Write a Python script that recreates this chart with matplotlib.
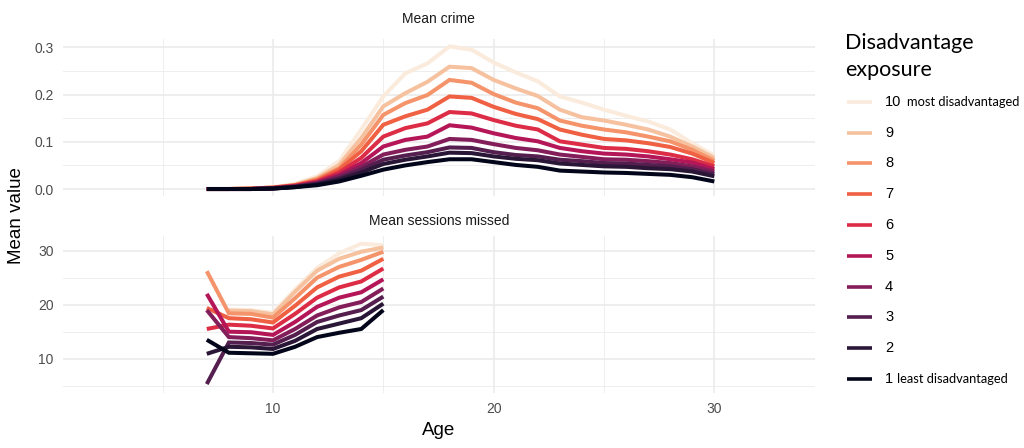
import numpy as np
import matplotlib
matplotlib.use("Agg")
import matplotlib.pyplot as plt
from matplotlib.lines import Line2D
import seaborn as sns

plt.rcParams['font.family'] = ['Liberation Sans', 'DejaVu Sans']

# ---------------- data ----------------
crime_ages = [7, 8, 9, 10, 11, 12, 13, 14, 15, 16, 17, 18, 19, 20, 21, 22, 23, 24, 25, 26, 27, 28, 29, 30]
crime_10 = [0, 0, 0.001, 0.004, 0.011, 0.027, 0.059, 0.126, 0.196, 0.245, 0.266, 0.302, 0.295, 0.268, 0.247, 0.228, 0.196, 0.183, 0.168, 0.155, 0.143, 0.126, 0.097, 0.071]
crime_9 = [0, 0, 0.001, 0.003, 0.009, 0.023, 0.051, 0.108, 0.175, 0.203, 0.227, 0.259, 0.256, 0.231, 0.213, 0.197, 0.168, 0.152, 0.145, 0.136, 0.126, 0.111, 0.090, 0.066]
crime_8 = [0, 0, 0.001, 0.003, 0.008, 0.021, 0.044, 0.094, 0.157, 0.182, 0.199, 0.231, 0.225, 0.201, 0.183, 0.171, 0.145, 0.134, 0.126, 0.120, 0.111, 0.101, 0.083, 0.060]
crime_7 = [0, 0, 0.001, 0.003, 0.008, 0.018, 0.041, 0.080, 0.136, 0.154, 0.168, 0.196, 0.193, 0.174, 0.159, 0.148, 0.126, 0.115, 0.106, 0.103, 0.097, 0.089, 0.075, 0.055]
crime_6 = [0, 0, 0, 0.002, 0.007, 0.016, 0.035, 0.066, 0.111, 0.129, 0.139, 0.163, 0.160, 0.146, 0.134, 0.126, 0.101, 0.094, 0.087, 0.085, 0.080, 0.073, 0.063, 0.048]
crime_5 = [0, 0, 0, 0.002, 0.006, 0.014, 0.030, 0.055, 0.090, 0.104, 0.111, 0.135, 0.130, 0.118, 0.108, 0.101, 0.087, 0.080, 0.075, 0.073, 0.069, 0.063, 0.056, 0.042]
crime_4 = [0, 0, 0, 0.002, 0.005, 0.013, 0.027, 0.047, 0.073, 0.083, 0.090, 0.106, 0.104, 0.095, 0.087, 0.082, 0.073, 0.068, 0.063, 0.062, 0.059, 0.055, 0.048, 0.037]
crime_3 = [0, 0, 0, 0.001, 0.005, 0.011, 0.023, 0.041, 0.062, 0.071, 0.078, 0.088, 0.087, 0.078, 0.072, 0.069, 0.062, 0.059, 0.055, 0.054, 0.051, 0.048, 0.042, 0.032]
crime_2 = [0, 0, 0, 0.001, 0.004, 0.010, 0.020, 0.035, 0.053, 0.062, 0.069, 0.077, 0.076, 0.069, 0.064, 0.061, 0.054, 0.051, 0.048, 0.047, 0.044, 0.042, 0.037, 0.027]
crime_1 = [0, 0, 0, 0.001, 0.004, 0.008, 0.016, 0.028, 0.041, 0.050, 0.057, 0.063, 0.063, 0.057, 0.051, 0.047, 0.039, 0.037, 0.035, 0.034, 0.032, 0.030, 0.025, 0.016]

sess_ages = [7, 8, 9, 10, 11, 12, 13, 14, 15]
sess_10 = [np.nan, 19.1, 19.0, 18.5, 22.8, 26.8, 29.5, 31.3, 31.0]
sess_9 = [np.nan, 18.9, 18.8, 18.2, 22.4, 26.3, 28.5, 29.8, 30.6]
sess_8 = [26.2, 18.4, 18.3, 17.6, 21.2, 25.0, 27.0, 28.3, 29.8]
sess_7 = [19.4, 17.5, 17.3, 16.7, 19.8, 23.2, 25.2, 26.3, 28.5]
sess_6 = [15.5, 16.3, 16.1, 15.6, 18.3, 21.3, 23.2, 24.3, 26.7]
sess_5 = [22.0, 15.0, 14.9, 14.4, 16.8, 19.6, 21.3, 22.3, 24.7]
sess_4 = [19.0, 14.0, 13.8, 13.4, 15.5, 18.0, 19.5, 20.5, 23.0]
sess_3 = [5.3, 13.0, 12.9, 12.6, 14.4, 16.8, 18.0, 19.0, 21.5]
sess_2 = [10.9, 12.2, 12.1, 11.8, 13.3, 15.5, 16.5, 17.5, 20.2]
sess_1 = [13.5, 11.1, 11.0, 10.9, 12.2, 14.0, 14.8, 15.5, 19.0]

groups = ["10", "9", "8", "7", "6", "5", "4", "3", "2", "1"]
group_suffix = {"10": "most disadvantaged", "1": "least disadvantaged"}
crime_series = [crime_10, crime_9, crime_8, crime_7, crime_6, crime_5, crime_4, crime_3, crime_2, crime_1]
sess_series = [sess_10, sess_9, sess_8, sess_7, sess_6, sess_5, sess_4, sess_3, sess_2, sess_1]

panel_titles = ["Mean crime", "Mean sessions missed"]

# ---------------- style ----------------
cmap = matplotlib.colormaps["rocket"]
col_vals = np.linspace(0, 1, 10)
colors = {g: cmap(col_vals[int(g) - 1]) for g in groups}

W, H = 1024, 448
fig = plt.figure(figsize=(W / 100, H / 100), dpi=100)

def fx(px):
    return px / W

def fy(py):
    return 1 - py / H

left, right = 62.7, 814.7
ax1 = fig.add_axes([fx(left), fy(196.0), fx(right - left), (196.0 - 39.3) / H])
ax2 = fig.add_axes([fx(left), fy(392.7), fx(right - left), (392.7 - 236.0) / H])

grid_col = "#EBEBEB"
tick_col = "#4D4D4D"

for ax in (ax1, ax2):
    ax.set_xlim(0.47, 34.55)
    for s in ax.spines.values():
        s.set_visible(False)
    ax.set_xticks([10, 20, 30])
    ax.set_xticks([5, 15, 25], minor=True)
    ax.tick_params(which="both", length=0, labelsize=10, labelcolor=tick_col, pad=6.5)
    ax.grid(which="major", color=grid_col, linewidth=1.2)
    ax.grid(which="minor", color=grid_col, linewidth=0.6)
    ax.set_axisbelow(True)

ax1.set_ylim(-0.0148, 0.317)
ax1.set_yticks([0.0, 0.1, 0.2, 0.3])
ax1.set_yticklabels(["0.0", "0.1", "0.2", "0.3"])
ax1.set_yticks([0.05, 0.15, 0.25], minor=True)
ax1.tick_params(axis="x", labelbottom=False)

ax2.set_ylim(3.7, 32.72)
ax2.set_yticks([10, 20, 30])
ax2.set_yticks([5, 15, 25], minor=True)

for g, ys in zip(groups, crime_series):
    ax1.plot(crime_ages, ys, color=colors[g], lw=2.9, solid_capstyle="butt", solid_joinstyle="miter")
for g, ys in zip(groups, sess_series):
    ax2.plot(sess_ages, ys, color=colors[g], lw=2.9, solid_capstyle="butt", solid_joinstyle="miter")

cx = (left + right) / 2
fig.text(fx(cx), fy(19), panel_titles[0], ha="center", va="center", fontsize=10, color="#1A1A1A")
fig.text(fx(cx), fy(221), panel_titles[1], ha="center", va="center", fontsize=10, color="#1A1A1A")
fig.text(fx(cx), fy(430), "Age", ha="center", va="center", fontsize=13.5)
fig.text(fx(16.5), fy(216), "Mean value", ha="center", va="center", fontsize=13.5, rotation=90)

# ---------------- legend ----------------
fig.text(fx(845), fy(42.7), "Disadvantage", ha="left", va="center", fontsize=15.5, family=["Lato", "DejaVu Sans"])
fig.text(fx(845), fy(70), "exposure", ha="left", va="center", fontsize=15.5, family=["Lato", "DejaVu Sans"])
key_y0, key_dy = 101.7, 30.8
for i, g in enumerate(groups):
    yy = key_y0 + i * key_dy
    fig.add_artist(Line2D([fx(847), fx(871.5)], [fy(yy), fy(yy)], transform=fig.transFigure,
                          color=colors[g], lw=2.6, solid_capstyle="butt"))
    t = fig.text(fx(885), fy(yy), g, ha="left", va="center", fontsize=10.5)
    if g in group_suffix:
        xs = 907 if g == "10" else 897
        fig.text(fx(xs), fy(yy + 0.5), group_suffix[g], ha="left", va="center", fontsize=9.3,
                 family=["Lato", "DejaVu Sans"])

fig.savefig("out.png", dpi=100, facecolor="white")
